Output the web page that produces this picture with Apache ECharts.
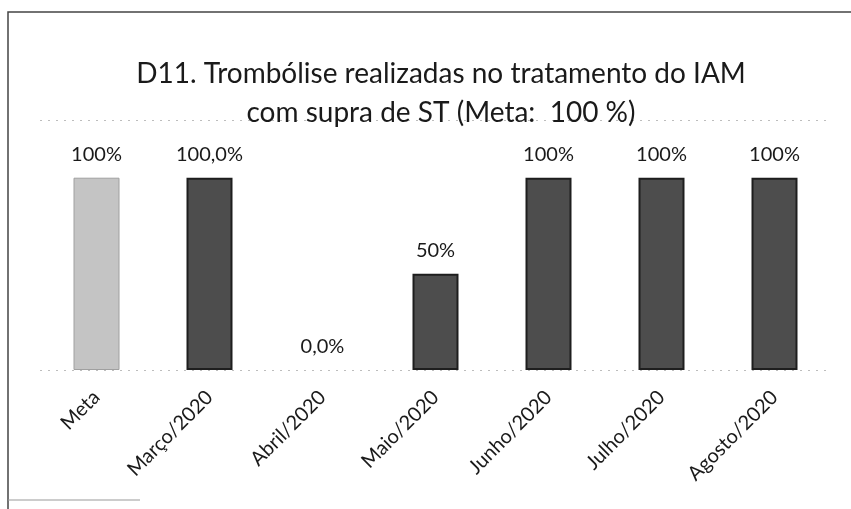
<!DOCTYPE html>
<html lang="pt-br">
<head>
  <meta charset="utf-8" />
  <title>D11</title>
  <style>
    html, body { margin: 0; padding: 0; background: #fff; }
  </style>
</head>
<body>
  <div id="main" style="width: 851px; height: 509px"></div>
  <script src="https://cdn.jsdelivr.net/npm/echarts@6/dist/echarts.min.js"></script>
  <script>
    let categories = ["Meta", "Março/2020", "Abril/2020", "Maio/2020", "Junho/2020", "Julho/2020", "Agosto/2020"];
    let values = [100, 100, 0, 50, 100, 100, 100];
    let valueLabels = ["100%", "100,0%", "0,0%", "50%", "100%", "100%", "100%"];

    let fontName = "Lato, 'Open Sans', sans-serif";

    let barData = values.map(function (v, i) {
      let style;
      if (i === 0) style = { color: "#c4c4c4", borderColor: "#a0a0a0", borderWidth: 1 };
      else if (v === 0) style = { color: "#4d4d4d", borderWidth: 0 };
      else style = { color: "#4d4d4d", borderColor: "#1e1e1e", borderWidth: 2 };
      return { value: v, itemStyle: style };
    });

    option = {
      animation: false,
      backgroundColor: "#fff",
      title: {
        text: "D11. Trombólise realizadas no tratamento do IAM\ncom supra de ST (Meta:  100 %)",
        left: 436,
        textAlign: "center",
        top: 49,
        textStyle: {
          fontFamily: fontName,
          fontWeight: "normal",
          fontSize: 28,
          lineHeight: 39,
          color: "#1a1a1a",
        },
      },
      graphic: [
        {
          type: "polyline",
          shape: { points: [[8, 509], [8, 12], [851, 12]] },
          style: { stroke: "#444", lineWidth: 1.5, fill: null },
        },
        {
          type: "line",
          shape: { x1: 8, y1: 500, x2: 140, y2: 500 },
          style: { stroke: "#999", lineWidth: 1 },
        },
      ],
      grid: {
        left: 40,
        right: 20,
        top: 120,
        bottom: 139,
      },
      xAxis: {
        type: "category",
        data: categories,
        axisLine: { show: false },
        axisTick: { show: false },
        axisLabel: {
          rotate: 45,
          margin: 24,
          fontFamily: fontName,
          fontSize: 20,
          color: "#1a1a1a",
        },
      },
      yAxis: {
        type: "value",
        min: 0,
        max: 130,
        interval: 130,
        axisLabel: { show: false },
        axisLine: { show: false },
        axisTick: { show: false },
        splitLine: {
          lineStyle: { color: "#bdbdbd", type: [2, 6], width: 1 },
        },
      },
      series: [
        {
          type: "bar",
          data: barData,
          barWidth: 46,
          label: {
            show: true,
            position: "top",
            distance: 13,
            fontFamily: fontName,
            fontSize: 20,
            color: "#1a1a1a",
            formatter: function (p) {
              return valueLabels[p.dataIndex];
            },
          },
        },
      ],
    };

    chartBar = echarts.init(document.getElementById("main"));
    chartBar.setOption(option);
  </script>
</body>
</html>
